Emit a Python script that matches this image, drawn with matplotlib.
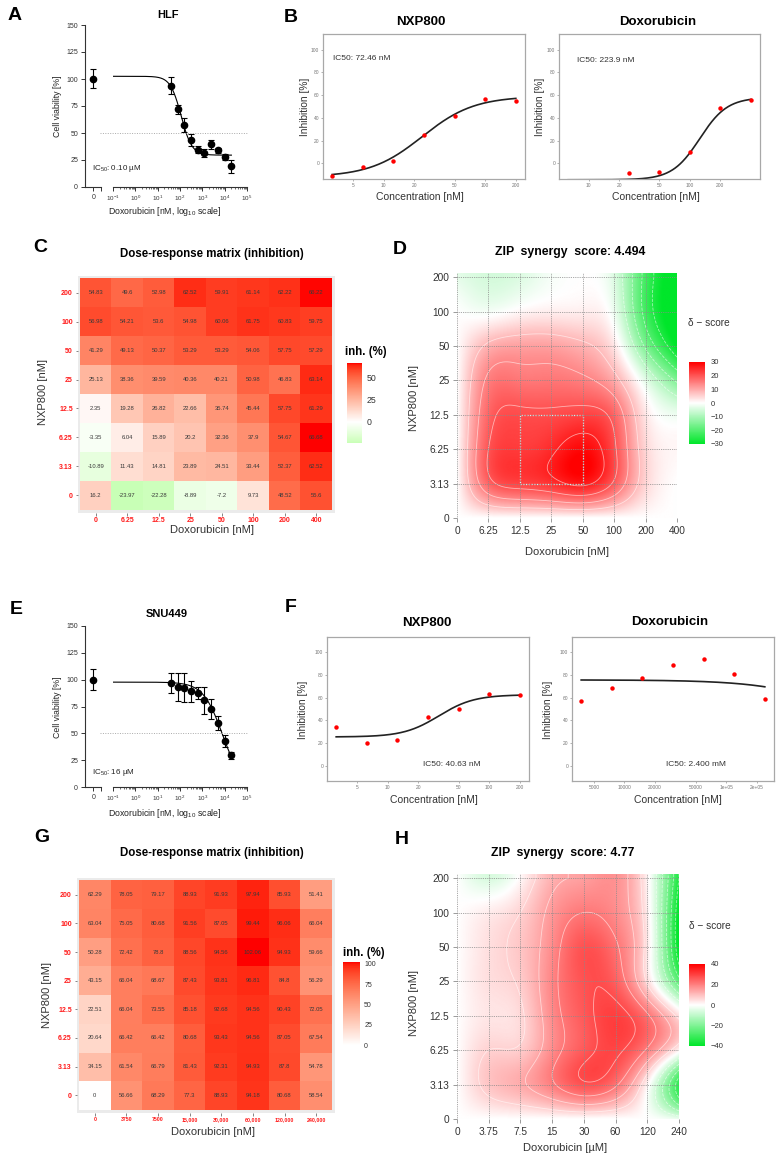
import numpy as np
import matplotlib
matplotlib.use('Agg')
import matplotlib.pyplot as plt
from matplotlib.colors import ListedColormap, LinearSegmentedColormap, Normalize
from matplotlib.cm import ScalarMappable
from matplotlib.patches import Rectangle
from matplotlib.ticker import LogLocator, NullFormatter, FixedLocator

plt.rcParams['font.family'] = ['Liberation Sans', 'DejaVu Sans']
plt.rcParams['mathtext.fontset'] = 'custom'
plt.rcParams['mathtext.rm'] = 'Liberation Sans'
plt.rcParams['mathtext.it'] = 'Liberation Sans:italic'
plt.rcParams['mathtext.bf'] = 'Liberation Sans:bold'

# ---------------- data ----------------
# Panels A / E: cell viability vs doxorubicin (nM)
via_conc_nM = [39.06, 78.13, 156.25, 312.5, 625, 1250, 2500, 5000, 10000, 20000]
hlf_ctrl, hlf_ctrl_err = 100.4, 8.8
hlf_viability = [93.9, 72.0, 57.3, 43.4, 34.5, 31.4, 39.7, 33.9, 28.0, 19.1]
hlf_viability_err = [7.7, 4.3, 6.5, 5.4, 3.0, 3.4, 4.2, 2.3, 2.6, 5.7]
hlf_fit = dict(low=102.5, high=29.5, ec50=112.0, hill=1.8)
snu_ctrl, snu_ctrl_err = 100.1, 9.6
snu_viability = [97.3, 93.3, 92.7, 89.2, 87.7, 80.9, 72.8, 59.5, 43.1, 29.4]
snu_viability_err = [9.3, 13.0, 13.3, 9.6, 5.7, 12.7, 9.6, 6.2, 5.4, 3.4]
snu_fit = dict(low=97.7, high=0.0, ec50=8000.0, hill=1.0)

# Dose axes
nxp_doses = [0, 3.125, 6.25, 12.5, 25, 50, 100, 200]
nxp_labels = ['0', '3.13', '6.25', '12.5', '25', '50', '100', '200']
hlf_doxo_doses = [0, 6.25, 12.5, 25, 50, 100, 200, 400]
hlf_doxo_labels = ['0', '6.25', '12.5', '25', '50', '100', '200', '400']
snu_doxo_doses = [0, 3750, 7500, 15000, 30000, 60000, 120000, 240000]
snu_doxo_labels = ['0', '3750', '7500', '15,000', '30,000', '60,000', '120,000', '240,000']
snu_doxo_uM_labels = ['0', '3.75', '7.5', '15', '30', '60', '120', '240']

# Panels C / G: dose-response matrices (rows: NXP800 0 -> 200, cols: doxorubicin)
hlf_matrix = [
    [16.2, -23.97, -22.28, -8.89, -7.2, 9.73, 48.52, 55.6],
    [-10.89, 11.43, 14.81, 23.89, 24.51, 33.44, 52.37, 62.52],
    [-3.35, 6.04, 15.89, 20.2, 32.36, 37.9, 54.67, 66.68],
    [2.35, 19.28, 26.82, 22.66, 35.74, 45.44, 57.75, 61.29],
    [25.13, 38.36, 39.59, 40.36, 40.21, 50.98, 46.83, 63.14],
    [41.29, 49.13, 50.37, 53.29, 53.29, 54.06, 57.75, 57.29],
    [56.98, 54.21, 53.6, 54.98, 60.06, 61.75, 60.83, 59.75],
    [54.83, 49.6, 52.98, 62.52, 59.91, 61.14, 62.22, 66.22],
]
snu_matrix = [
    [0, 56.66, 68.29, 77.3, 88.93, 94.18, 80.68, 58.54],
    [34.15, 61.54, 66.79, 81.43, 92.31, 94.93, 87.8, 54.78],
    [20.64, 66.42, 66.42, 80.68, 93.43, 94.56, 87.05, 67.54],
    [22.51, 66.04, 73.55, 85.18, 92.68, 94.56, 90.43, 72.05],
    [43.15, 66.04, 68.67, 87.43, 93.81, 96.81, 84.8, 56.29],
    [50.28, 72.42, 78.8, 88.56, 94.56, 102.06, 94.93, 59.66],
    [63.04, 75.05, 80.68, 91.56, 87.05, 99.44, 96.06, 66.04],
    [62.29, 78.05, 79.17, 88.93, 91.93, 97.94, 85.93, 51.41],
]

# Panels B / F: fitted single-agent curves (4-parameter logistic)
hlf_nxp_fit = dict(low=-12.0, high=59.0, ec50=24.0, hill=1.7)
hlf_doxo_fit = dict(low=-14.5, high=58.0, ec50=125.0, hill=3.2)
snu_nxp_fit = dict(low=25.5, high=62.5, ec50=32.0, hill=2.5)
snu_doxo_fit = dict(low=75.5, high=0.0, ec50=2.4e6, hill=1.06)

# Panels D / H: ZIP delta scores on the dose grid (rows: NXP800 0 -> 200)
hlf_delta = [
    [0, 0, 0, 0, 0, 0, 0, 0],
    [0, 18, 22, 24, 27, 19, 5, 0],
    [0, 20, 23, 25, 29, 21, 5, 1],
    [0, 18, 21, 21, 22, 18, 3, -2],
    [0, 15, 16, 16, 15, 10, -3, -15],
    [0, 9, 11, 11, 9, 3, -15, -30],
    [0, -1, 1, 2, 2, -2, -22, -34],
    [-3, -5, -4, -1, 0, -4, -22, -34],
]
snu_delta = [
    [0, 0, 0, 0, 0, 0, 0, -3],
    [0, 9, 13, 20, 27, 22, 2, -32],
    [0, 7, 8, 18, 26, 29, 20, 2],
    [0, 4, 6, 18, 26, 30, 22, 5],
    [0, 5, 8, 19, 27, 25, 6, -25],
    [0, 5, 9, 18, 27, 22, 4, -40],
    [0, 3, 7, 16, 21, 18, 3, -40],
    [0, -6, 1, 12, 15, 17, 2, -35],
]

# ---------------- helpers ----------------
W, H = 783, 1162
fig = plt.figure(figsize=(W / 100, H / 100), dpi=100)


def add_ax(l, t, r, b):
    return fig.add_axes([l / W, 1 - b / H, (r - l) / W, (b - t) / H])


def ftext(x, y, s, **kw):
    kw.setdefault('ha', 'center')
    kw.setdefault('va', 'center')
    return fig.text(x / W, 1 - y / H, s, **kw)


def ll4(x, low, high, ec50, hill):
    x = np.asarray(x, float)
    return low + (high - low) / (1 + (ec50 / x) ** hill)


def lab_to_rgb(L, a, b):
    fy = (L + 16) / 116.0
    fx = fy + a / 500.0
    fz = fy - b / 200.0
    d = 6 / 29

    def finv(t):
        return np.where(t > d, t ** 3, 3 * d * d * (t - 4 / 29))
    X, Y, Z = 0.95047 * finv(fx), finv(fy), 1.08883 * finv(fz)
    r = 3.2406 * X - 1.5372 * Y - 0.4986 * Z
    g = -0.9689 * X + 1.8758 * Y + 0.0415 * Z
    bb = 0.0557 * X - 0.2040 * Y + 1.0570 * Z
    rgb = np.stack([r, g, bb], -1)
    rgb = np.where(rgb <= 0.0031308, 12.92 * rgb, 1.055 * np.abs(rgb) ** (1 / 2.4) - 0.055)
    return np.clip(rgb, 0, 1)


def lab_diverging():
    green = np.array([87.73, -86.18, 83.18])
    white = np.array([100.0, 0.0, 0.0])
    red = np.array([53.24, 80.09, 67.20])
    t = np.linspace(0, 1, 512)
    labs = np.where((t < 0.5)[:, None],
                    green + (white - green) * (t[:, None] / 0.5),
                    white + (red - white) * ((t[:, None] - 0.5) / 0.5))
    return ListedColormap(lab_to_rgb(labs[:, 0], labs[:, 1], labs[:, 2]))


def spline_matrix(n, xs):
    """Natural cubic spline basis: maps n node values (at 0..n-1) to values at xs."""
    A = np.zeros((n, n))
    R = np.zeros((n, n))
    A[0, 0] = A[-1, -1] = 1
    for k in range(1, n - 1):
        A[k, k - 1:k + 2] = [1, 4, 1]
        R[k, k - 1:k + 2] = [6, -12, 6]
    Mm = np.linalg.solve(A, R)
    xs = np.clip(np.asarray(xs, float), 0, n - 1)
    k = np.clip(np.floor(xs).astype(int), 0, n - 2)
    t = xs - k
    B = np.zeros((len(xs), n))
    rows = np.arange(len(xs))
    B[rows, k] += 1 - t
    B[rows, k + 1] += t
    c0 = ((1 - t) ** 3 - (1 - t)) / 6
    c1 = (t ** 3 - t) / 6
    B += c0[:, None] * Mm[k] + c1[:, None] * Mm[k + 1]
    return B


heat_cmap = lab_diverging()
delta_cmap = LinearSegmentedColormap.from_list('delta', ['#00E62A', '#FFFFFF', '#FF0000'])

# ---------------- panel functions ----------------

def viability_panel(top, bot, ctrl, ctrl_err, vals, errs, fit):
    axL = add_ax(85, top, 101, bot)
    axR = add_ax(113, top, 247, bot)
    for ax in (axL, axR):
        ax.set_ylim(0, 150)
        ax.patch.set_alpha(0)
        for s in ('top', 'right'):
            ax.spines[s].set_visible(False)
        for s in ('left', 'bottom'):
            ax.spines[s].set_linewidth(0.8)
            ax.spines[s].set_color('#333333')
        ax.tick_params(which='major', length=3, width=0.7, colors='#333333', labelsize=5, pad=2)
        ax.tick_params(which='minor', length=1.6, width=0.5, colors='#333333')
    axR.spines['left'].set_visible(False)
    axR.set_yticks([])
    axL.set_xlim(-1, 0.9)
    axL.set_xticks([0])
    axL.set_xticklabels(['0'])
    axL.set_xticks([0.9], minor=True)
    axL.tick_params(axis='x', which='minor', length=3, width=0.7)
    axL.set_yticks([0, 25, 50, 75, 100, 125, 150])
    axL.errorbar([0], [ctrl], yerr=[ctrl_err], fmt='o', color='black', ms=4.5,
                 capsize=2.2, elinewidth=0.8, capthick=0.8, clip_on=False)
    axR.set_xscale('log')
    axR.set_xlim(0.1, 1e5)
    axR.xaxis.set_major_locator(FixedLocator([10.0 ** k for k in range(-1, 6)]))
    axR.set_xticklabels([f'$10^{{{k}}}$' for k in range(-1, 6)])
    axR.xaxis.set_minor_locator(LogLocator(base=10, subs=np.arange(2, 10), numticks=30))
    axR.xaxis.set_minor_formatter(NullFormatter())
    axR.tick_params(axis='x', labelsize=4.5)
    xc = np.logspace(-1, np.log10(max(via_conc_nM)), 300)
    axR.plot(xc, ll4(xc, **fit), color='black', lw=0.8)
    axR.errorbar(via_conc_nM, vals, yerr=errs, fmt='o', color='black', ms=4.5,
                 capsize=2.2, elinewidth=0.8, capthick=0.8, clip_on=False)
    axR.plot([10 ** -1.6, 1e5], [50, 50], ls=(0, (1, 1.5)), color='#aaaaaa', lw=0.7, clip_on=False)
    return axL, axR


def inhibition_panel(box, doses, resp, fit, xticks, xticklabels, ylim):
    ax = add_ax(*box)
    lo, hi = np.log10(min(doses)), np.log10(max(doses))
    pad = 0.05 * (hi - lo)
    ax.set_xscale('log')
    ax.set_xlim(10 ** (lo - pad), 10 ** (hi + pad))
    ax.set_ylim(*ylim)
    xc = np.logspace(lo, hi, 300)
    ax.plot(xc, ll4(xc, **fit), color='#222222', lw=1.2)
    ax.plot(doses, resp, 'o', color='#FF0000', ms=3.2, mec='none')
    ax.xaxis.set_major_locator(FixedLocator(xticks))
    ax.set_xticklabels(xticklabels)
    ax.xaxis.set_minor_locator(FixedLocator([]))
    ax.set_yticks([0, 20, 40, 60, 80, 100])
    ax.tick_params(length=1.5, width=0.4, colors='#777777', labelsize=3.5, pad=1.2)
    for s in ax.spines.values():
        s.set_color('#A8A8A8')
        s.set_linewidth(0.9)
    return ax


def matrix_panel(box, mat, xlabels, ylabels, cbar_box, cbar_ticks, xtick_fs, cbar_fs):
    mat = np.asarray(mat, float)
    ax = add_ax(*box)
    M = np.abs(mat).max()
    norm = Normalize(-M, M)
    ax.set_facecolor('#EBEBEB')
    ax.imshow(mat, origin='lower', cmap=heat_cmap, norm=norm, aspect='auto',
              extent=(-0.5, 7.5, -0.5, 7.5), interpolation='nearest')
    ax.set_xlim(-0.58, 7.58)
    ax.set_ylim(-0.6, 7.6)
    for s in ax.spines.values():
        s.set_visible(False)
    for j in range(mat.shape[0]):
        for i in range(mat.shape[1]):
            ax.text(i, j, f'{mat[j, i]:g}', ha='center', va='center', fontsize=4.2, color='#3a3a3a')
    ax.set_xticks(range(len(xlabels)))
    ax.set_xticklabels(xlabels)
    ax.set_yticks(range(len(ylabels)))
    ax.set_yticklabels(ylabels)
    ax.tick_params(length=1.8, width=0.5, color='#555555', pad=1.5)
    for lab in ax.get_xticklabels():
        lab.set_color('#FF1A1A'); lab.set_fontweight('bold'); lab.set_fontsize(xtick_fs)
    for lab in ax.get_yticklabels():
        lab.set_color('#FF1A1A'); lab.set_fontweight('bold'); lab.set_fontsize(5)
    cax = add_ax(*cbar_box)
    cb = fig.colorbar(ScalarMappable(norm=norm, cmap=heat_cmap), cax=cax,
                      boundaries=np.linspace(mat.min(), mat.max(), 300))
    cb.set_ticks(cbar_ticks)
    cb.outline.set_visible(False)
    cax.tick_params(length=0, labelsize=cbar_fs, colors='#333333', pad=3)
    return ax


def synergy_panel(box, delta, xlabels, ylabels, vlim, levels, cbar_box, cbar_ticks, hot_box=None):
    delta = np.asarray(delta, float)
    ax = add_ax(*box)
    n = delta.shape[0]
    ytop = (n - 1) + 0.12
    fx = np.linspace(0, n - 1, 351)
    fy = np.linspace(0, ytop, 360)
    FZ = spline_matrix(n, fy) @ delta @ spline_matrix(n, fx).T
    ax.imshow(FZ, origin='lower', extent=(0, n - 1, 0, ytop), cmap=delta_cmap,
              vmin=-vlim, vmax=vlim, aspect='auto', interpolation='bilinear')
    FX, FY = np.meshgrid(fx, fy)
    ax.contour(FX, FY, FZ, levels=levels, colors='white', linewidths=0.6, alpha=0.55)
    for k in range(n):
        ax.axvline(k, ls=(0, (1, 1.2)), color='#8a8a8a', lw=0.6)
        ax.axhline(k, ls=(0, (1, 1.2)), color='#8a8a8a', lw=0.6)
    if hot_box is not None:
        x0, y0, w, h = hot_box
        ax.add_patch(Rectangle((x0, y0), w, h, fill=False, ls=(0, (1, 1.2)), ec='#f4f4f4', lw=0.9))
    ax.set_xlim(0, n - 1)
    ax.set_ylim(0, ytop)
    for s in ax.spines.values():
        s.set_visible(False)
    ax.set_xticks(range(n))
    ax.set_xticklabels(xlabels)
    ax.set_yticks(range(n))
    ax.set_yticklabels(ylabels)
    ax.tick_params(length=3, width=0.6, color='#8a8a8a', labelsize=7.3, labelcolor='#333333', pad=2.5)
    cax = add_ax(*cbar_box)
    cb = fig.colorbar(ScalarMappable(norm=Normalize(-vlim, vlim), cmap=delta_cmap), cax=cax)
    cb.set_ticks(cbar_ticks)
    cb.outline.set_visible(False)
    cax.tick_params(length=0, labelsize=5.5, colors='#333333', pad=4)
    return ax


lab_kw = dict(fontsize=14, fontweight='bold')

# ---------------- Panel A ----------------
ftext(15, 16, 'A', **lab_kw)
viability_panel(25, 187, hlf_ctrl, hlf_ctrl_err, hlf_viability, hlf_viability_err, hlf_fit)
ftext(168, 15, 'HLF', fontsize=8, fontweight='bold')
ftext(57, 106, 'Cell viability [%]', fontsize=6.3, rotation=90, color='#222222')
ftext(165, 211, 'Doxorubicin [nM, log$_{10}$ scale]', fontsize=6.3, color='#222222')
ftext(92, 168, 'IC$_{50}$: 0.10 µM', fontsize=5.8, ha='left', color='#222222')

# ---------------- Panel B ----------------
hlf_m = np.asarray(hlf_matrix)
ftext(291, 18, 'B', **lab_kw)
inhibition_panel((323, 34, 525, 179), nxp_doses[1:], hlf_m[1:, 0], hlf_nxp_fit,
                 [5, 10, 20, 50, 100, 200], ['5', '10', '20', '50', '100', '200'], (-13.8, 113.8))
inhibition_panel((559, 34, 760, 179), hlf_doxo_doses[1:], hlf_m[0, 1:], hlf_doxo_fit,
                 [10, 20, 50, 100, 200], ['10', '20', '50', '100', '200'], (-13.8, 113.8))
ftext(421, 22, 'NXP800', fontsize=9.5, fontweight='bold')
ftext(658, 22, 'Doxorubicin', fontsize=9.5, fontweight='bold')
ftext(420, 197, 'Concentration [nM]', fontsize=7.5, color='#333333')
ftext(656, 197, 'Concentration [nM]', fontsize=7.5, color='#333333')
ftext(305, 107, 'Inhibition [%]', fontsize=7.3, rotation=90, color='#333333')
ftext(540, 107, 'Inhibition [%]', fontsize=7.3, rotation=90, color='#333333')
ftext(333, 58, 'IC50: 72.46 nM', fontsize=6, ha='left', color='#333333')
ftext(577, 61, 'IC50: 223.9 nM', fontsize=6, ha='left', color='#333333')

# ---------------- Panel C ----------------
ftext(40, 248, 'C', **lab_kw)
ftext(212, 254, 'Dose-response matrix (inhibition)', fontsize=8.3, fontweight='bold')
matrix_panel((77.5, 275.5, 334.5, 512.5), hlf_matrix, hlf_doxo_labels, nxp_labels,
             (347, 363, 362, 443), [0, 25, 50], 5, 6.3)
ftext(212, 530, 'Doxorubicin [nM]', fontsize=8, color='#333333')
ftext(43, 392, 'NXP800 [nM]', fontsize=8, rotation=90, color='#333333')
ftext(345, 352, 'inh. (%)', fontsize=8.3, fontweight='bold', ha='left')

# ---------------- Panel D ----------------
ftext(400, 249, 'D', **lab_kw)
ftext(570, 252, 'ZIP  synergy  score: 4.494', fontsize=8.8, fontweight='bold')
synergy_panel((457, 273, 677, 518), hlf_delta, hlf_doxo_labels, nxp_labels, 30,
              [-26, -20, -14, -8, 8, 14, 20, 26], (689, 362, 705, 444),
              [-30, -20, -10, 0, 10, 20, 30], hot_box=(2, 1, 2, 2))
ftext(567, 552, 'Doxorubicin [nM]', fontsize=8, color='#333333')
ftext(414, 398, 'NXP800 [nM]', fontsize=8, rotation=90, color='#333333')
ftext(688, 323, 'δ − score', fontsize=7.3, ha='left', color='#333333')

# ---------------- Panel E ----------------
ftext(16, 609, 'E', **lab_kw)
viability_panel(626, 787, snu_ctrl, snu_ctrl_err, snu_viability, snu_viability_err, snu_fit)
ftext(167, 614, 'SNU449', fontsize=8, fontweight='bold')
ftext(57, 707, 'Cell viability [%]', fontsize=6.3, rotation=90, color='#222222')
ftext(165, 813, 'Doxorubicin [nM, log$_{10}$ scale]', fontsize=6.3, color='#222222')
ftext(92, 772, 'IC$_{50}$: 16 µM', fontsize=5.8, ha='left', color='#222222')

# ---------------- Panel F ----------------
snu_m = np.asarray(snu_matrix)
ftext(291, 608, 'F', **lab_kw)
inhibition_panel((327, 637, 529, 781), nxp_doses[1:], snu_m[1:, 0], snu_nxp_fit,
                 [5, 10, 20, 50, 100, 200], ['5', '10', '20', '50', '100', '200'], (-13.1, 113.1))
inhibition_panel((572, 637, 774, 781), snu_doxo_doses[1:], snu_m[0, 1:], snu_doxo_fit,
                 [5000, 10000, 20000, 50000, 1e5, 2e5],
                 ['5000', '10000', '20000', '50000', '1e+05', '2e+05'], (-13.1, 113.1))
ftext(427, 623, 'NXP800', fontsize=9.5, fontweight='bold')
ftext(670, 622, 'Doxorubicin', fontsize=9.5, fontweight='bold')
ftext(434, 800, 'Concentration [nM]', fontsize=7.5, color='#333333')
ftext(678, 800, 'Concentration [nM]', fontsize=7.5, color='#333333')
ftext(303, 710, 'Inhibition [%]', fontsize=7.3, rotation=90, color='#333333')
ftext(548, 710, 'Inhibition [%]', fontsize=7.3, rotation=90, color='#333333')
ftext(452, 764, 'IC50: 40.63 nM', fontsize=6, color='#333333')
ftext(696, 764, 'IC50: 2.400 mM', fontsize=6, color='#333333')

# ---------------- Panel G ----------------
ftext(42, 838, 'G', **lab_kw)
ftext(212, 853, 'Dose-response matrix (inhibition)', fontsize=8.3, fontweight='bold')
matrix_panel((76.5, 877.5, 334.5, 1112.5), snu_matrix, snu_doxo_labels, nxp_labels,
             (343, 962, 360, 1045), [0, 25, 50, 75, 100], 3.8, 5)
ftext(213, 1132, 'Doxorubicin [nM]', fontsize=8, color='#333333')
ftext(47, 995, 'NXP800 [nM]', fontsize=8, rotation=90, color='#333333')
ftext(343, 953, 'inh. (%)', fontsize=8.3, fontweight='bold', ha='left')

# ---------------- Panel H ----------------
ftext(402, 839, 'H', **lab_kw)
ftext(563, 853, 'ZIP  synergy  score: 4.77', fontsize=8.8, fontweight='bold')
synergy_panel((457, 874, 679, 1119), snu_delta, snu_doxo_uM_labels, nxp_labels, 40,
              [-35, -28, -21, -14, -7, 7, 14, 21, 28], (689, 964, 705, 1046),
              [-40, -20, 0, 20, 40])
ftext(565, 1148, 'Doxorubicin [µM]', fontsize=8, color='#333333')
ftext(414, 1003, 'NXP800 [nM]', fontsize=8, rotation=90, color='#333333')
ftext(689, 926, 'δ − score', fontsize=7.3, ha='left', color='#333333')

fig.savefig('out.png', dpi=100, facecolor='white')
